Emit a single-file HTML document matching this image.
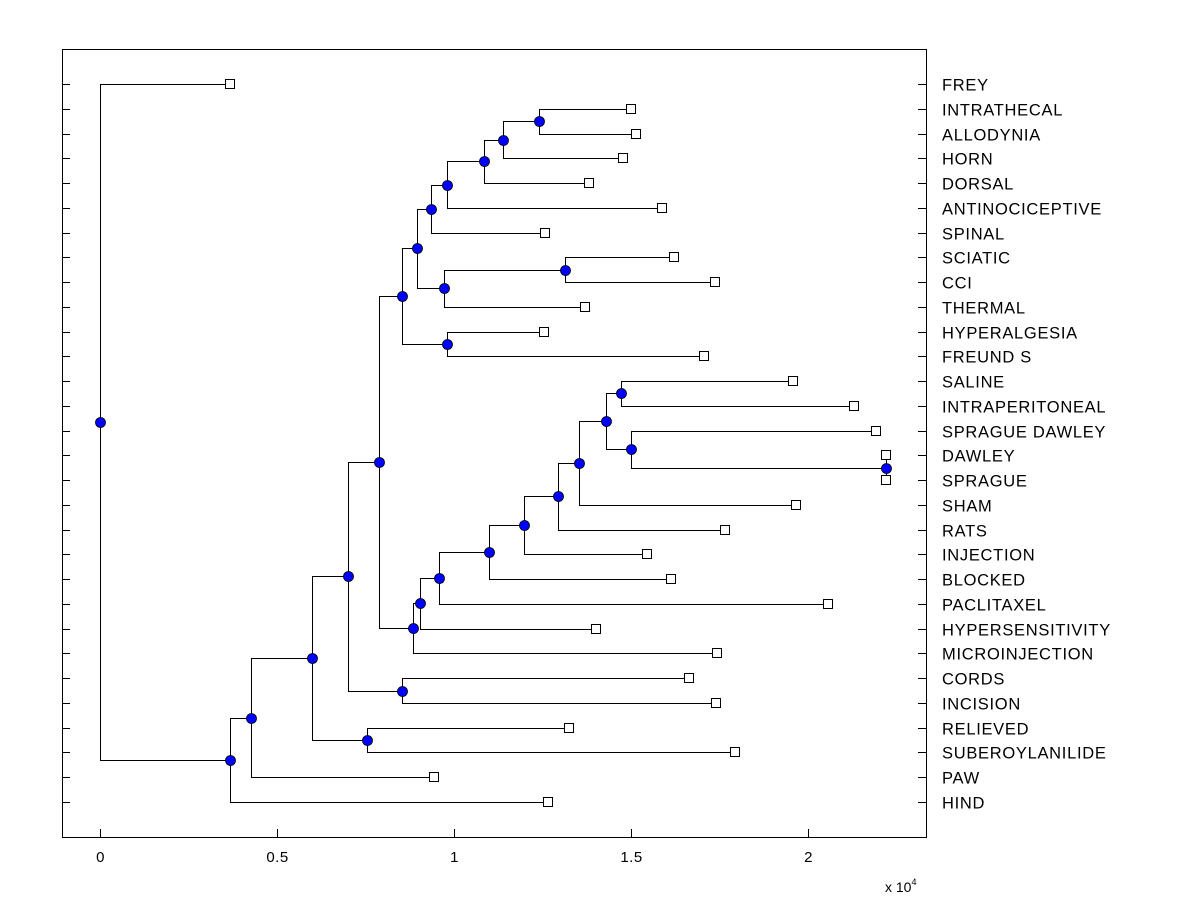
<!DOCTYPE html>
<html><head><meta charset="utf-8"><style>
html,body{margin:0;padding:0;background:#fff;}
svg{display:block;font-family:"Liberation Sans",Arial,sans-serif;}
</style></head><body>
<svg id="chart" width="1200" height="900" viewBox="0 0 1200 900" xmlns="http://www.w3.org/2000/svg">
<rect x="0" y="0" width="1200" height="900" fill="#fff"/>
<g id="grid"></g>
<g id="links"></g>
<g id="marks"></g>
<rect x="62.5" y="49.5" width="864" height="788" fill="none" stroke="#000" stroke-width="1"/>
<text x="885" y="892" font-size="14">x 10<tspan dy="-7" font-size="9">4</tspan></text>
</svg>
<script>
const labels = ["FREY","INTRATHECAL","ALLODYNIA","HORN","DORSAL","ANTINOCICEPTIVE","SPINAL","SCIATIC","CCI","THERMAL","HYPERALGESIA","FREUND S","SALINE","INTRAPERITONEAL","SPRAGUE DAWLEY","DAWLEY","SPRAGUE","SHAM","RATS","INJECTION","BLOCKED","PACLITAXEL","HYPERSENSITIVITY","MICROINJECTION","CORDS","INCISION","RELIEVED","SUBEROYLANILIDE","PAW","HIND"];
const leafHeights = [0.367,1.500,1.514,1.477,1.381,1.588,1.257,1.621,1.737,1.370,1.254,1.706,1.958,2.130,2.192,2.220,2.220,1.966,1.766,1.545,1.613,2.056,1.401,1.743,1.664,1.740,1.325,1.794,0.944,1.266];
const mergeChildren = [[1,2],[30,3],[31,4],[32,5],[33,6],[7,8],[35,9],[34,36],[10,11],[37,38],[12,13],[15,16],[14,41],[40,42],[43,17],[44,18],[45,19],[46,20],[47,21],[48,22],[49,23],[39,50],[24,25],[51,52],[26,27],[53,54],[55,28],[56,29],[0,57]];
const mergeHeights = [1.240,1.138,1.085,0.980,0.935,1.314,0.972,0.895,0.980,0.853,1.472,2.220,1.500,1.429,1.353,1.294,1.198,1.099,0.958,0.904,0.884,0.788,0.853,0.701,0.754,0.599,0.427,0.367,0];
const xTicks = [0,0.5,1,1.5,2];
const xTickLabels = ["0","0.5","1","1.5","2"];

const NS="http://www.w3.org/2000/svg";
const X0=100, XS=354, Y0=84, YS=(802-84)/29;
const xPos=v=>X0+v*XS;
const yPos=i=>Y0+i*YS;
function mk(tag,attrs,parent){const e=document.createElementNS(NS,tag);for(const k in attrs)e.setAttribute(k,attrs[k]);parent.appendChild(e);return e;}
const grid=document.getElementById('grid'),links=document.getElementById('links'),marks=document.getElementById('marks');

labels.forEach((lab,i)=>{
  const y=Math.round(yPos(i))+0.5;
  let t=mk('line',{x1:62,x2:70,y1:y,y2:y,stroke:'#000'},grid);
  
  
  t=mk('line',{x1:918,x2:926,y1:y,y2:y,stroke:'#000'},grid);
  
  
  const tx=mk('text',{x:942,y:y+6,'font-size':16.5,'letter-spacing':0.7},grid);
  tx.textContent=lab;
  
  
});
xTicks.forEach((v,i)=>{
  const x=Math.round(xPos(v))+0.5;
  let t=mk('line',{x1:x,x2:x,y1:829,y2:837,stroke:'#000'},grid);
  
  
  const tx=mk('text',{x:x,y:862,'font-size':15,'letter-spacing':0.5,'text-anchor':'middle'},grid);
  tx.textContent=xTickLabels[i];
  
  
});

const nx=[],ny=[];
leafHeights.forEach((h,i)=>{nx[i]=xPos(h);ny[i]=yPos(i);});
mergeChildren.forEach((c,k)=>{const id=labels.length+k;nx[id]=xPos(mergeHeights[k]);ny[id]=(ny[c[0]]+ny[c[1]])/2;});

mergeChildren.forEach((c,k)=>{
  const id=labels.length+k, x=Math.round(nx[id])+0.5;
  const pts=`${Math.round(nx[c[0]])+0.5},${Math.round(ny[c[0]])+0.5} ${x},${Math.round(ny[c[0]])+0.5} ${x},${Math.round(ny[c[1]])+0.5} ${Math.round(nx[c[1]])+0.5},${Math.round(ny[c[1]])+0.5}`;
  const p=mk('polyline',{points:pts,fill:'none',stroke:'#000','stroke-width':1},links);
  
  
});
leafHeights.forEach((h,i)=>{
  const r=mk('rect',{x:Math.round(nx[i])-4.5,y:Math.round(ny[i])-4.5,width:9,height:9,fill:'#fff',stroke:'#000'},marks);
  
  
});
mergeChildren.forEach((c,k)=>{
  const id=labels.length+k;
  const d=mk('circle',{cx:Math.round(nx[id])+0.5,cy:Math.round(ny[id])+0.5,r:5,fill:'#0000ff',stroke:'#000','stroke-width':0.8},marks);
  
  
});
</script>
</body></html>
